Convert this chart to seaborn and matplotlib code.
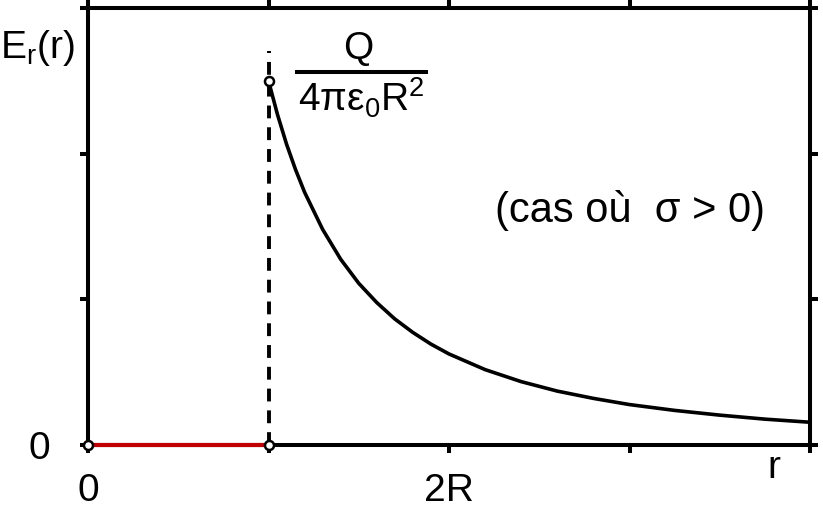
import matplotlib
matplotlib.use("Agg")
import matplotlib.pyplot as plt
import seaborn as sns
import pandas as pd

# ---- data (r in units of R, E in units of Q/(4*pi*eps0*R^2)) ----
r_out = [1.0, 1.05, 1.1, 1.15, 1.2, 1.3, 1.4, 1.5, 1.6, 1.7, 1.8, 1.9, 2.0,
         2.2, 2.4, 2.6, 2.8, 3.0, 3.25, 3.5, 3.75, 4.0]
E_out = [1.000, 0.907, 0.826, 0.756, 0.694, 0.592, 0.510, 0.444, 0.391, 0.346,
         0.309, 0.277, 0.250, 0.207, 0.174, 0.148, 0.128, 0.111, 0.095, 0.082,
         0.071, 0.0625]
r_in = [0.0, 1.0]
E_in = [0.0, 0.0]
r_open = [0.0, 1.0, 1.0]
E_open = [0.0, 0.0, 1.0]
r_dash = [1.0, 1.0]
E_dash = [0.0, 1.083]
x_ticks = [0, 1, 2, 3, 4]
x_ticklabels = ["0", "", "2R", "", ""]
y_ticks = [0, 0.4, 0.8, 1.2]
y_ticklabels = ["0", "", "", ""]

sns.set_theme(style="white")
plt.rcParams["font.family"] = ["Liberation Sans", "DejaVu Sans"]
plt.rcParams["mathtext.fontset"] = "custom"
plt.rcParams["mathtext.rm"] = "Liberation Sans"
plt.rcParams["mathtext.it"] = "Liberation Sans"
plt.rcParams["text.color"] = "black"

W, H = 823, 511
fig = plt.figure(figsize=(W / 100, H / 100), dpi=100)
ax = fig.add_axes([88 / W, 1 - 445 / H, (810 - 88) / W, (445 - 8) / H])

df_out = pd.DataFrame({"r": r_out, "E": E_out})
df_in = pd.DataFrame({"r": r_in, "E": E_in})

sns.lineplot(data=df_out, x="r", y="E", ax=ax, color="black", lw=2.6,
             sort=False, estimator=None, zorder=4)
ax.plot(r_dash, E_dash, color="black", lw=2.8, linestyle=(0, (3.3, 2.3)), zorder=3)
sns.lineplot(data=df_in, x="r", y="E", ax=ax, color="#c00000", lw=3.0,
             sort=False, estimator=None, zorder=5, clip_on=False)
ax.plot(r_open, E_open, linestyle="none", marker="o", ms=6.5, mew=1.8,
        mfc="white", mec="black", zorder=6, clip_on=False)

ax.set_xlim(0, 4)
ax.set_ylim(0, 1.2)
ax.set_xticks(x_ticks)
ax.set_xticklabels(x_ticklabels)
ax.set_yticks(y_ticks)
ax.set_yticklabels(y_ticklabels)
ax.set_xlabel("")
ax.set_ylabel("")

for s in ax.spines.values():
    s.set_visible(True)
    s.set_color("black")
    s.set_linewidth(2.9)

ax.tick_params(axis="both", which="both", direction="out", length=5.5, width=2.9,
               color="black", top=True, right=True, bottom=True, left=True,
               labelsize=28, labelcolor="black")
ax.tick_params(axis="x", pad=15)
ax.tick_params(axis="y", pad=22)

# labels
ax.text(3.80, -0.063, "r", fontsize=28, ha="center", va="center")
fig.text(0.0, 1 - 48 / H, r"E$_\mathregular{r}$(r)", fontsize=28, ha="left", va="center")

# fraction Q / (4 pi eps0 R^2)
ax.text(1.495, 1.088, "Q", fontsize=28, ha="center", va="center")
ax.plot([1.147, 1.884], [1.023, 1.023], color="black", lw=2.9, clip_on=False,
        solid_capstyle="butt")
ax.text(1.512, 0.953, r"4πε$_\mathregular{0}$R$^\mathregular{2}$", fontsize=28,
        ha="center", va="center")

ax.text(2.255, 0.645, "(cas où  σ > 0)", fontsize=30, ha="left", va="center")

fig.savefig("out.png", dpi=100)
